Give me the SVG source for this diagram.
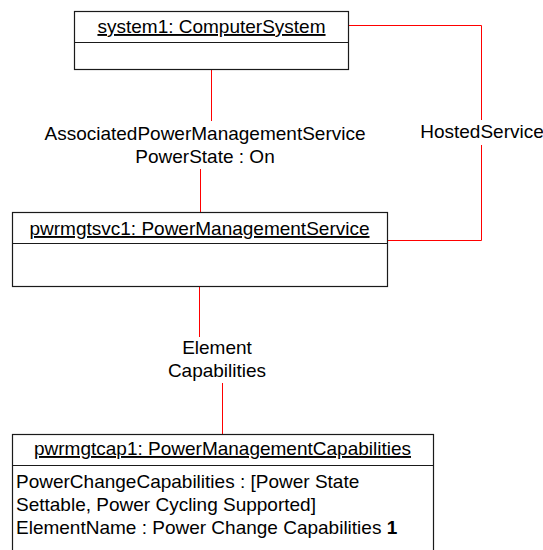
<svg xmlns="http://www.w3.org/2000/svg" width="543" height="550" viewBox="0 0 543 550">
<style>
text{font-family:"Liberation Sans",Arial,sans-serif;font-size:19px;fill:#000}
.t{text-anchor:middle;text-decoration:underline}
.c{text-anchor:middle}
.box{fill:#fff;stroke:#1a1a1a;stroke-width:1.2}
.div{stroke:#1a1a1a;stroke-width:1.2}
.con{fill:none;stroke:#ff0000;stroke-width:1}
</style>
<rect width="543" height="550" fill="#fff"/>
<g id="connectors">
<polyline class="con" points="348.5,25.5 481.5,25.5 481.5,120"/>
<polyline class="con" points="481.5,145 481.5,240.5 387.5,240.5"/>
<line class="con" x1="211.5" y1="69" x2="211.5" y2="121"/>
<line class="con" x1="200.5" y1="169" x2="200.5" y2="212"/>
<line class="con" x1="199.5" y1="287" x2="199.5" y2="337"/>
<line class="con" x1="222.5" y1="383" x2="222.5" y2="434"/>
<text class="c" x="205" y="140">AssociatedPowerManagementService</text>
<text class="c" x="205" y="163">PowerState : On</text>
<text class="c" x="482" y="138">HostedService</text>
<text class="c" x="217" y="354">Element</text>
<text class="c" x="217" y="377">Capabilities</text>
</g>
<g id="system1">
<rect class="box" x="74.5" y="11.5" width="274" height="58"/>
<line class="div" x1="74.5" y1="42.5" x2="348.5" y2="42.5"/>
<text class="t" x="211.5" y="33">system1: ComputerSystem</text>
</g>
<g id="pwrmgtsvc1">
<rect class="box" x="12.5" y="212.5" width="375" height="74"/>
<line class="div" x1="12.5" y1="243.5" x2="387.5" y2="243.5"/>
<text class="t" x="199.5" y="235">pwrmgtsvc1: PowerManagementService</text>
</g>
<g id="pwrmgtcap1">
<rect class="box" x="12.5" y="434.5" width="421" height="130"/>
<line class="div" x1="12.5" y1="465.5" x2="433.5" y2="465.5"/>
<text class="t" x="222.5" y="455">pwrmgtcap1: PowerManagementCapabilities</text>
<text x="16" y="488">PowerChangeCapabilities : [Power State</text>
<text x="16" y="511">Settable, Power Cycling Supported]</text>
<text x="16" y="534">ElementName : Power Change Capabilities <tspan font-weight="bold">1</tspan></text>
</g>
</svg>
